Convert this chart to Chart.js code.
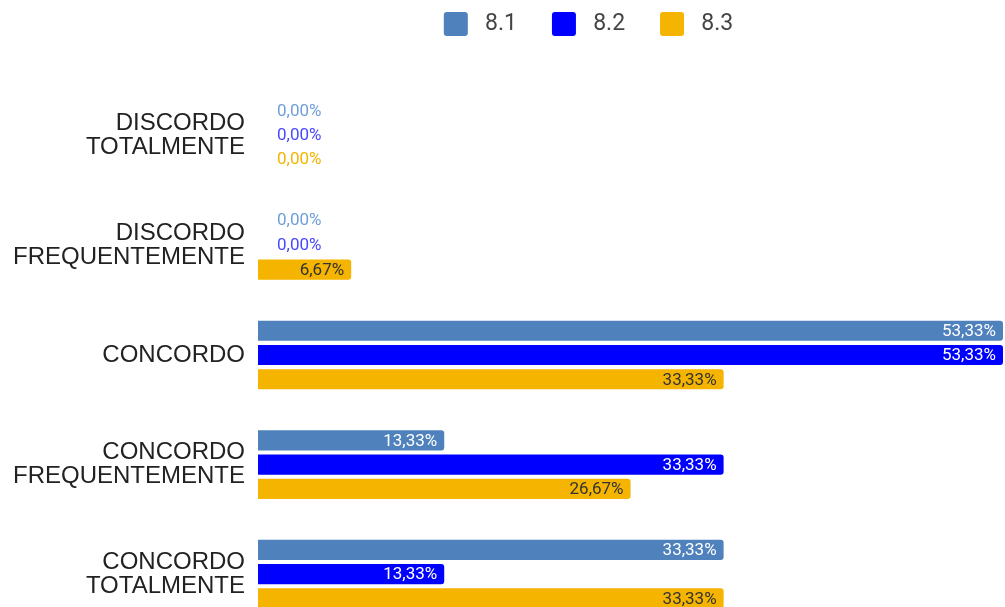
<!DOCTYPE html>
<html>
<head>
<meta charset="utf-8">
<script src="https://cdn.jsdelivr.net/npm/chart.js@4/dist/chart.umd.min.js"></script>
<style>
  html, body { margin: 0; padding: 0; background: #fff; overflow: hidden; }
  canvas { display: block; }
</style>
</head>
<body>
<canvas id="myChart" width="1005" height="666"></canvas>
<script>
var categorias = [
    ['DISCORDO', 'TOTALMENTE'],
    ['DISCORDO', 'FREQUENTEMENTE'],
    'CONCORDO',
    ['CONCORDO', 'FREQUENTEMENTE'],
    ['CONCORDO', 'TOTALMENTE']
];
var series = ['8.1', '8.2', '8.3'];
var valores81 = [0, 0, 53.33, 13.33, 33.33];
var valores82 = [0, 0, 53.33, 33.33, 13.33];
var valores83 = [0, 6.67, 33.33, 26.67, 33.33];
var eixoMax = 53.33;

var cores = ['#4f81bd', '#0000ff', '#f4b400'];
var coresTexto = ['#ffffff', '#ffffff', '#333333'];
var coresZero = ['#6f9fd8', '#4848ff', '#f4b400'];

// rotulos de valor nas barras
var rotulos = {
    id: 'rotulos',
    afterDatasetsDraw: function (chart) {
        var ctx = chart.ctx;
        ctx.save();
        ctx.font = '17px Roboto';
        ctx.textBaseline = 'middle';
        chart.data.datasets.forEach(function (ds, i) {
            var meta = chart.getDatasetMeta(i);
            meta.data.forEach(function (bar, j) {
                var v = ds.data[j];
                var txt = v.toFixed(2).replace('.', ',') + '%';
                if (v === 0) {
                    ctx.textAlign = 'left';
                    ctx.fillStyle = coresZero[i];
                    ctx.fillText(txt, bar.base + 19, bar.y);
                } else {
                    ctx.textAlign = 'right';
                    ctx.fillStyle = coresTexto[i];
                    ctx.fillText(txt, bar.x - 7, bar.y + 1);
                }
            });
        });
        ctx.restore();
    }
};

// legenda: espaco extra abaixo e deslocada para a direita
var ajusteLegenda = {
    id: 'ajusteLegenda',
    beforeInit: function (chart) {
        var fit = chart.legend.fit;
        chart.legend.fit = function () {
            fit.bind(chart.legend)();
            this.height += 36;
        };
        var draw = chart.legend.draw;
        chart.legend.draw = function () {
            chart.ctx.save();
            chart.ctx.translate(87, 1);
            draw.bind(chart.legend)();
            chart.ctx.restore();
        };
    }
};

var ctx = document.getElementById('myChart').getContext('2d');
var myChart = new Chart(ctx, {
    type: 'bar',
    data: {
        labels: categorias,
        datasets: [
            { label: ' ' + series[0], data: valores81, backgroundColor: cores[0] },
            { label: ' ' + series[1], data: valores82, backgroundColor: cores[1] },
            { label: ' ' + series[2], data: valores83, backgroundColor: cores[2] }
        ]
    },
    options: {
        indexAxis: 'y',
        responsive: false,
        animation: false,
        events: [],
        datasets: {
            bar: {
                categoryPercentage: 0.664,
                barPercentage: 0.833,
                borderRadius: 3,
                borderSkipped: 'start'
            }
        },
        layout: {
            padding: { top: -24, left: 0, right: 2, bottom: 0 }
        },
        plugins: {
            legend: {
                position: 'top',
                align: 'center',
                labels: {
                    boxWidth: 24,
                    boxHeight: 24,
                    useBorderRadius: true,
                    borderRadius: 3,
                    padding: 35,
                    color: '#444',
                    font: { family: 'Roboto', size: 23 }
                }
            },
            tooltip: { enabled: false }
        },
        scales: {
            x: {
                display: false,
                min: 0,
                max: eixoMax
            },
            y: {
                grid: { display: false, drawTicks: false },
                border: { display: false },
                ticks: {
                    color: '#222',
                    padding: 13,
                    font: { family: 'Liberation Sans', size: 24, lineHeight: 1.0 }
                }
            }
        }
    },
    plugins: [rotulos, ajusteLegenda]
});
</script>
</body>
</html>
